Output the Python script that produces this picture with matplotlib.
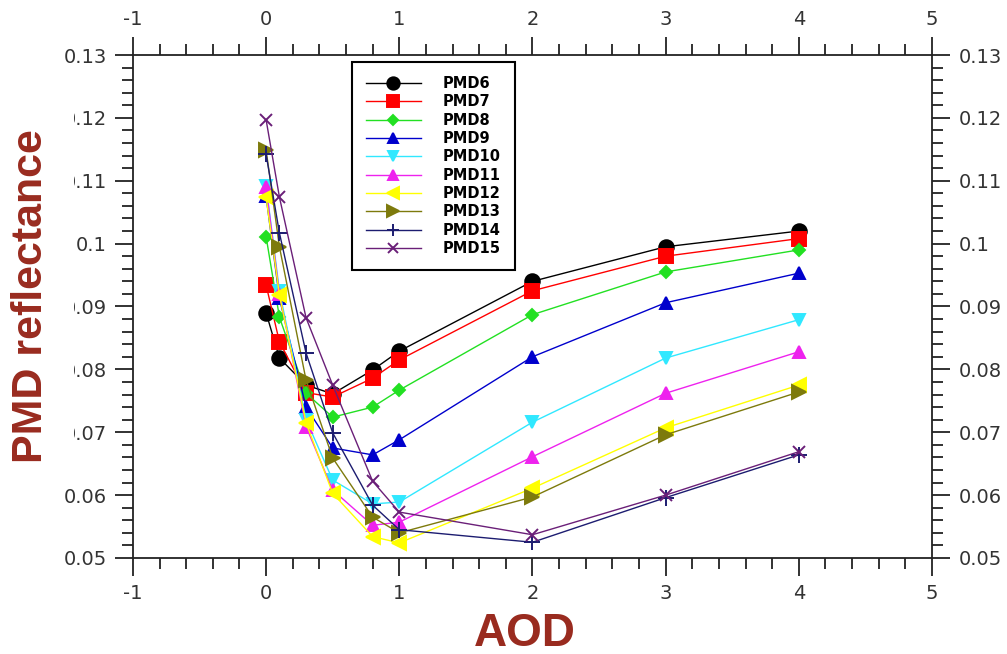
import matplotlib.pyplot as plt
from matplotlib.ticker import MultipleLocator, FuncFormatter

# Valores
aod = [0, 0.1, 0.3, 0.5, 0.8, 1, 2, 3, 4]

pmd6 = [0.0890, 0.0818, 0.0775, 0.0761, 0.0799, 0.0829, 0.0940, 0.0995, 0.1020]
pmd7 = [0.0934, 0.0844, 0.0763, 0.0756, 0.0786, 0.0815, 0.0925, 0.0980, 0.1008]
pmd8 = [0.1011, 0.0883, 0.0762, 0.0724, 0.0740, 0.0767, 0.0887, 0.0955, 0.0990]
pmd9 = [0.1075, 0.0913, 0.0740, 0.0675, 0.0664, 0.0688, 0.0820, 0.0906, 0.0953]
pmd10 = [0.1092, 0.0925, 0.0720, 0.0624, 0.0586, 0.0589, 0.0716, 0.0818, 0.0879]
pmd11 = [0.1090, 0.0920, 0.0709, 0.0608, 0.0552, 0.0557, 0.0661, 0.0762, 0.0828]
pmd12 = [0.1074, 0.0918, 0.0715, 0.0603, 0.0534, 0.0524, 0.0611, 0.0707, 0.0775]
pmd13 = [0.1149, 0.0995, 0.0783, 0.0659, 0.0565, 0.0540, 0.0597, 0.0696, 0.0764]
pmd14 = [0.1142, 0.1017, 0.0826, 0.0699, 0.0584, 0.0545, 0.0525, 0.0596, 0.0664]
pmd15 = [0.1197, 0.1074, 0.0882, 0.0775, 0.0622, 0.0573, 0.0537, 0.0600, 0.0669]

series = [pmd6, pmd7, pmd8, pmd9, pmd10, pmd11, pmd12, pmd13, pmd14, pmd15]
labels = ['PMD6', 'PMD7', 'PMD8', 'PMD9', 'PMD10', 'PMD11', 'PMD12', 'PMD13', 'PMD14', 'PMD15']
colores = ['#000000', '#ff0000', '#22e022', '#0000cc', '#30e8ff', '#ee22ee', '#ffff00',
           '#7d7a0c', '#1c1c70', '#6a1f78']
marcadores = ['o', 's', 'D', '^', 'v', '^', '<', '>', '+', 'x']
tamanos = [10.5, 10, 6.5, 8.5, 9, 8.5, 9.5, 9.5, 11, 8]

tick_color = '#333333'
label_color = '#992b1f'

fig = plt.figure(figsize=(10.07, 6.54), dpi=100)
ax = fig.add_axes([0.132, 0.1468, 0.7935, 0.7691])

for y, lab, c, m, ms in zip(series, labels, colores, marcadores, tamanos):
    ax.plot(aod, y, color=c, marker=m, markersize=ms, lw=1.0, mew=1.4,
            markeredgecolor=c, label=lab)

ax.set_xlim(-1, 5)
ax.set_ylim(0.05, 0.13)
ax.xaxis.set_major_locator(MultipleLocator(1))
ax.xaxis.set_minor_locator(MultipleLocator(0.2))
ax.yaxis.set_major_locator(MultipleLocator(0.01))
ax.yaxis.set_minor_locator(MultipleLocator(0.002))
ax.yaxis.set_major_formatter(FuncFormatter(lambda v, p: f'{round(v, 3):g}'))
ax.xaxis.set_major_formatter(FuncFormatter(lambda v, p: f'{int(round(v))}'))

ax.tick_params(which='both', direction='out', top=True, right=True,
               labeltop=True, labelright=True, width=1.3, color='#222222')
ax.tick_params(which='major', length=13, pad=6, labelsize=14, labelcolor=tick_color)
ax.tick_params(which='minor', length=8)
for s in ax.spines.values():
    s.set_linewidth(1.3)
    s.set_color('#222222')

ax.set_xlabel('AOD', fontsize=33, fontweight='bold', color=label_color,
              family='Liberation Sans')
ax.xaxis.set_label_coords(0.49, -0.151)
ax.xaxis.label.set_va('center')

# la etiqueta tapa en parte los numeros del eje, como en el original
ax.set_ylabel('PMD reflectance', fontsize=31, fontweight='bold', color=label_color,
              family='Liberation Sans',
              bbox=dict(facecolor='white', edgecolor='none', pad=16))
ax.yaxis.set_label_coords(-0.127, 0.521)
ax.yaxis.label.set_va('center')

leg = ax.legend(loc='upper left', bbox_to_anchor=(0.274, 0.986),
                prop={'weight': 'bold', 'size': 10.5}, handlelength=3.8, labelspacing=0.23,
                borderpad=0.95, handletextpad=1.5, fancybox=False, framealpha=1,
                edgecolor='black', borderaxespad=0)
leg.get_frame().set_linewidth(1.5)
for h in leg.legend_handles:
    h.set_markersize(h.get_markersize() * 0.85)

fig.savefig('out.png', dpi=100)
